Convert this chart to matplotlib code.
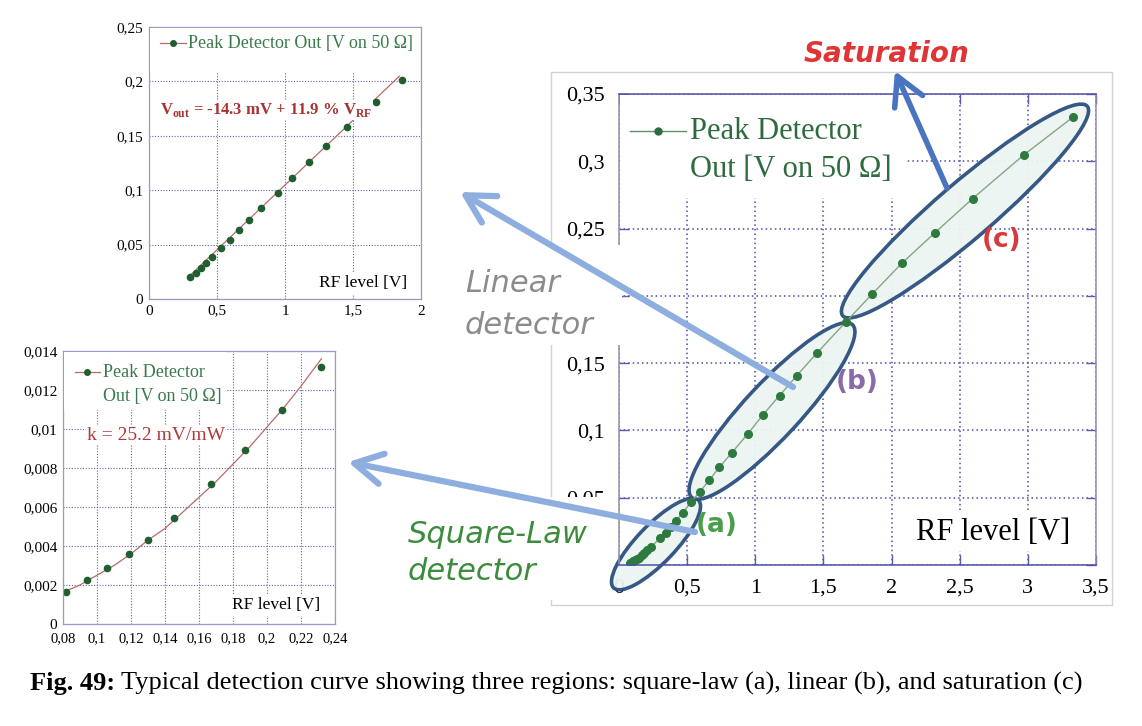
import matplotlib.pyplot as plt
import numpy as np
from matplotlib.patches import Ellipse, Rectangle, FancyArrowPatch
from matplotlib.ticker import FuncFormatter, MultipleLocator

plt.rcParams['font.family'] = 'Liberation Serif'
plt.rcParams['mathtext.fontset'] = 'custom'
plt.rcParams['mathtext.rm'] = 'Liberation Serif'
plt.rcParams['mathtext.bf'] = 'Liberation Serif:bold'

# square-law region (bottom-left inset)
sq_x = [0.082, 0.094, 0.106, 0.119, 0.130, 0.145, 0.167, 0.187, 0.209, 0.232]
sq_y = [0.00166, 0.00225, 0.00285, 0.00360, 0.00432, 0.00545, 0.00720, 0.00893, 0.01098, 0.01320]
sq_fit_x = [0.082, 0.09, 0.10, 0.11, 0.12, 0.13, 0.14, 0.15, 0.16, 0.17, 0.18, 0.19, 0.20, 0.21, 0.22, 0.232]
sq_fit_y = [0.0017, 0.0020, 0.0025, 0.0030, 0.0036, 0.0043, 0.0049, 0.0057, 0.0065, 0.0073,
            0.0082, 0.0091, 0.0101, 0.0111, 0.0122, 0.0136]

# linear region (top-left inset)
lin_x = [0.304, 0.344, 0.380, 0.417, 0.466, 0.530, 0.594, 0.663, 0.736, 0.827, 0.947,
         1.053, 1.178, 1.303, 1.455, 1.666, 1.860]
lin_y = [0.0202, 0.0239, 0.0282, 0.0328, 0.0386, 0.0469, 0.0545, 0.0631, 0.0726, 0.0833, 0.0977,
         0.1112, 0.1259, 0.1406, 0.1578, 0.1808, 0.2016]
lin_fit_x = [0.30, 1.84]
lin_fit_y = [0.0214, 0.2047]

# saturation region (main chart only)
sat_x = [2.075, 2.317, 2.595, 2.971, 3.331]
sat_y = [0.2242, 0.2468, 0.2723, 0.3048, 0.3328]

main_x = sq_x + lin_x + sat_x
main_y = sq_y + lin_y + sat_y

legend_label = 'Peak Detector Out [V on 50 \u03a9]'
caption_bold = 'Fig. 49:'
caption_text = 'Typical detection curve showing three regions: square-law (a), linear (b), and saturation (c)'

W, H = 1142, 726
fig = plt.figure(figsize=(W / 100, H / 100), dpi=100)

comma = FuncFormatter(lambda v, p: ('%g' % round(v, 6)).replace('.', ','))

# overlay in pixel coordinates for the annotations
ov = fig.add_axes([0, 0, 1, 1], zorder=10)
ov.set_xlim(0, W)
ov.set_ylim(H, 0)
ov.axis('off')


def px_axes(l, t, r, b):
    return fig.add_axes([l / W, 1 - b / H, (r - l) / W, (b - t) / H])


def style_small(ax):
    ax.set_axisbelow(True)
    ax.grid(True, linestyle=(0, (1, 1.5)), color='#6464b4', lw=0.8)
    for s in ax.spines.values():
        s.set_color('#9a9ac4')
        s.set_linewidth(0.9)
    ax.tick_params(length=0, labelsize=11, pad=4)
    ax.xaxis.set_major_formatter(comma)
    ax.yaxis.set_major_formatter(comma)


def white_box(ax, x0, y0, x1, y1):
    ax.add_patch(Rectangle((x0, y0), x1 - x0, y1 - y0, transform=ax.transAxes,
                           facecolor='white', edgecolor='none', zorder=3, clip_on=False))


def legend_handle(ax, x0, x1, y, line_color, dot_color, lw, ms):
    ax.plot([x0, x1], [y, y], transform=ax.transAxes, color=line_color, lw=lw, zorder=4, clip_on=False)
    ax.plot([(x0 + x1) / 2], [y], 'o', transform=ax.transAxes, color=dot_color, ms=ms, zorder=5, clip_on=False)


# ---- top-left inset: linear detector ----
ax1 = px_axes(149, 27, 421, 299)
style_small(ax1)
ax1.plot(lin_fit_x, lin_fit_y, color='#b86a6a', lw=0.9, zorder=2)
ax1.plot(lin_x, lin_y, 'o', color='#1f5f2f', ms=4.5, zorder=2.5)
ax1.set_xlim(0, 2)
ax1.set_ylim(0, 0.25)
ax1.xaxis.set_major_locator(MultipleLocator(0.5))
ax1.yaxis.set_major_locator(MultipleLocator(0.05))
white_box(ax1, 0.005, 0.835, 0.995, 0.995)
legend_handle(ax1, 0.040, 0.136, 0.941, '#b86a6a', '#1f5f2f', 0.9, 4)
ax1.text(0.143, 0.941, legend_label, transform=ax1.transAxes, va='center', ha='left',
         fontsize=13, color='#3a7a4a', zorder=6)
ax1.text(0.040, 0.695, r'V$_{\mathbf{out}}$ = -14.3 mV + 11.9 % V$_{\mathbf{RF}}$',
         transform=ax1.transAxes, va='center', ha='left', fontsize=12, fontweight='bold',
         color='#a83232', zorder=6,
         bbox=dict(facecolor='white', edgecolor='none', pad=1))
ax1.text(0.949, 0.059, 'RF level [V]', transform=ax1.transAxes, va='center', ha='right',
         fontsize=12.5, color='black', zorder=6,
         bbox=dict(facecolor='white', edgecolor='none', pad=2))

# ---- bottom-left inset: square-law detector ----
ax2 = px_axes(63, 351, 335, 624)
style_small(ax2)
ax2.tick_params(axis='x', labelsize=10.5, pad=6)
ax2.plot(sq_fit_x, sq_fit_y, color='#b86a6a', lw=0.9, zorder=2)
ax2.plot(sq_x, sq_y, 'o', color='#1f5f2f', ms=4.5, zorder=2.5)
ax2.set_xlim(0.08, 0.24)
ax2.set_ylim(0, 0.014)
ax2.xaxis.set_major_locator(MultipleLocator(0.02))
ax2.yaxis.set_major_locator(MultipleLocator(0.002))
white_box(ax2, 0.005, 0.784, 0.60, 0.995)
legend_handle(ax2, 0.044, 0.136, 0.923, '#b86a6a', '#1f5f2f', 0.9, 4)
ax2.text(0.147, 0.923, 'Peak Detector', transform=ax2.transAxes, va='center', ha='left',
         fontsize=13, color='#3a7a4a', zorder=6)
ax2.text(0.147, 0.832, 'Out [V on 50 \u03a9]', transform=ax2.transAxes, va='center', ha='left',
         fontsize=13, color='#3a7a4a', zorder=6)
ax2.text(0.088, 0.692, 'k = 25.2 mV/mW', transform=ax2.transAxes, va='center', ha='left',
         fontsize=14, color='#b03a3a', zorder=6,
         bbox=dict(facecolor='white', edgecolor='none', pad=1))
ax2.text(0.945, 0.07, 'RF level [V]', transform=ax2.transAxes, va='center', ha='right',
         fontsize=12.5, color='black', zorder=6,
         bbox=dict(facecolor='white', edgecolor='none', pad=2))

# ---- main chart ----
ax = px_axes(619, 94, 1096, 565)
ax.set_axisbelow(True)
ax.grid(True, linestyle=(0, (1, 2)), color='#4a4aaa', lw=1.1)
for side in ['top', 'bottom']:
    ax.spines[side].set_color('#5050a8')
for side in ['left', 'right']:
    ax.spines[side].set_color('#9090a8')
for s in ax.spines.values():
    s.set_linewidth(1.1)
ax.tick_params(direction='in', length=7, width=1, color='#5a5ab0', labelsize=16, pad=10,
               top=True, right=True)
ax.xaxis.set_major_formatter(comma)
ax.yaxis.set_major_formatter(comma)
ax.set_xlim(0, 3.5)
ax.set_ylim(0, 0.35)
ax.xaxis.set_major_locator(MultipleLocator(0.5))
ax.yaxis.set_major_locator(MultipleLocator(0.05))

# region ellipses (pixel geometry, drawn under the data)
regions = [((656, 544), 122, 38, -46),
           ((772, 411), 236, 55, -47),
           ((965, 211), 322, 56, -40.6)]
for (cx, cy), w, h, ang in regions:
    ax.add_patch(Ellipse((cx, cy), w, h, angle=ang, transform=ov.transData,
                         facecolor='#edf5f3', edgecolor='#2c4f7e', lw=2.6, zorder=1.5,
                         alpha=0.95, clip_on=False))

ax.plot(main_x, main_y, color='#86a486', lw=1.0, zorder=2)
ax.plot(main_x, main_y, 'o', color='#2e7a3e', ms=5.5, zorder=2.5)

white_box(ax, 0.002, 0.779, 0.600, 0.998)
legend_handle(ax, 0.023, 0.140, 0.921, '#5f8f66', '#2e6b3e', 1.0, 5)
ax.text(0.149, 0.921, 'Peak Detector', transform=ax.transAxes, va='center', ha='left',
        fontsize=22, color='#2e6b3e', zorder=6)
ax.text(0.149, 0.839, 'Out [V on 50 \u03a9]', transform=ax.transAxes, va='center', ha='left',
        fontsize=22, color='#2e6b3e', zorder=6)
ax.text(0.945, 0.070, 'RF level [V]', transform=ax.transAxes, va='center', ha='right',
        fontsize=22, color='black', zorder=6,
        bbox=dict(facecolor='white', edgecolor='none', pad=3))

# ---- overlay: frame, label boxes, arrows, captions ----
ov.add_patch(Rectangle((551, 72), 561, 533, facecolor='none', edgecolor='#d2d2d2', lw=1, zorder=0))
ov.add_patch(Rectangle((455, 245), 167, 100, facecolor='white', edgecolor='none', zorder=1))
ov.add_patch(Rectangle((400, 497), 206, 103, facecolor='white', edgecolor='none', zorder=1))

ov.text(465, 292, 'Linear', fontsize=22, style='italic', color='#8c8c8c',
        family='DejaVu Sans', va='baseline', ha='left', zorder=2)
ov.text(465, 334, 'detector', fontsize=22, style='italic', color='#8c8c8c',
        family='DejaVu Sans', va='baseline', ha='left', zorder=2)
ov.text(408, 543, 'Square-Law', fontsize=22, style='italic', color='#3d8c3d',
        family='DejaVu Sans', va='baseline', ha='left', zorder=2)
ov.text(408, 580, 'detector', fontsize=22, style='italic', color='#3d8c3d',
        family='DejaVu Sans', va='baseline', ha='left', zorder=2)
ov.text(886, 54, 'Saturation', fontsize=20, style='italic', fontweight='bold', color='#e03535',
        family='DejaVu Sans', va='center', ha='center', zorder=2)

ov.text(717, 525, '(a)', fontsize=19, fontweight='bold', color='#4a9e4a',
        family='DejaVu Sans', va='center', ha='center', zorder=2)
ov.text(857, 382, '(b)', fontsize=19, fontweight='bold', color='#8a6aa8',
        family='DejaVu Sans', va='center', ha='center', zorder=2)
ov.text(1002, 240, '(c)', fontsize=19, fontweight='bold', color='#d83a3a',
        family='DejaVu Sans', va='center', ha='center', zorder=2)

arrows = [((793, 387), (460, 192), '#8eaedf', 4.5),
          ((695, 532), (348, 462), '#8eaedf', 4.5),
          ((947, 188), (895, 71), '#4a74c0', 4.0)]
for a, b, c, lw in arrows:
    ov.add_patch(FancyArrowPatch(a, b, arrowstyle='->,head_length=1.0,head_width=0.55',
                                 mutation_scale=20, color=c, lw=lw, zorder=3,
                                 shrinkA=0, shrinkB=0))

t1 = ov.text(30, 690, caption_bold, fontsize=19, fontweight='bold', va='baseline', ha='left')
ov.annotate(caption_text, xy=(1, 0), xycoords=t1, xytext=(4, 0), textcoords='offset points',
            fontsize=19, va='bottom', ha='left')

fig.savefig('out.png', dpi=100)
